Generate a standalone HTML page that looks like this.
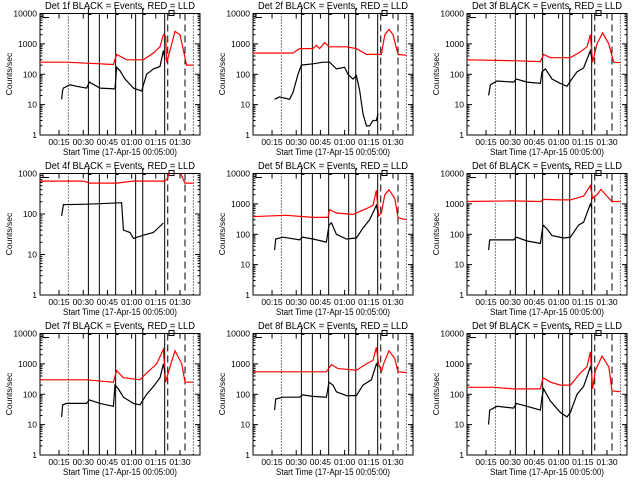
<!DOCTYPE html>
<html><head><meta charset="utf-8"><style>
html,body{margin:0;padding:0;background:#fff}
svg{display:block}
text{font-family:"Liberation Sans",sans-serif;fill:#000}
</style></head><body>
<svg id="chart" width="640" height="480" viewBox="0 0 640 480" xmlns="http://www.w3.org/2000/svg"></svg>
<script>
// ---- data (minutes after 00:00; counts/sec) ----
const tickLabels = ["00:15","00:30","00:45","01:00","01:15","01:30"];
const tickMinutes = [15,30,45,60,75,90];
const solidLines = [33.2,40.0,50.1,62.5,66.9,80.5];
const dottedLines = [20.8,98.3];
const dashedLines = [82.4,93.1];
const detNames = ["1f","2f","3f","4f","5f","6f","7f","8f","9f"];

const b1t=[16.6,17.3,17.7,21.8,25.9,32.1,33.8,40.4,49.7,50.7,52.8,55.9,61.1,66.2,69.3,73.5,77.6,79.7,80.7];
const b1v=[15,30,35,45,40,35,55,35,33,170,130,70,35,28,100,150,180,600,300];
const r1t=[3.2,19.7,48.7,50.7,56.9,67.3,73.5,77.6,79.7,81.1,81.8,83.8,86.9,90.0,94.1,98.3];
const r1v=[250,250,210,450,300,300,500,800,2000,1800,250,600,2600,2000,200,200];

const b2t=[16.6,19.7,25.9,28.0,31.1,33.2,40.4,46.6,50.7,54.9,60.0,62.1,65.2,67.3,69.3,71.4,73.5,75.5,77.6,79.7,80.7];
const b2v=[15,18,15,25,100,200,220,250,250,150,170,100,70,90,30,5,2,2,3,3,5];
const r2t=[3.2,28.0,32.1,40.4,42.5,44.5,47.6,50.7,61.1,67.3,73.5,80.7,82.8,84.9,87.5,90.0,93.1,98.3];
const r2v=[500,500,700,700,900,700,1100,800,800,700,450,450,450,2000,3000,2000,450,420];

const b3t=[16.6,17.7,21.8,32.1,33.8,40.4,48.7,49.7,51.8,55.9,61.1,65.2,67.3,71.4,75.5,79.7,80.7];
const b3v=[20,45,60,55,70,55,50,120,150,70,50,40,60,120,160,600,300];
const r3t=[3.2,32.1,48.7,50.7,54.9,67.3,73.5,77.6,79.7,81.1,83.8,87.3,91.1,94.1,98.3];
const r3v=[300,280,260,450,350,350,550,800,2000,250,1000,2300,1000,250,240];

const b4t=[16.6,17.7,32.1,40.4,53.8,54.9,59.0,61.1,67.3,73.5,79.7];
const b4v=[90,170,175,180,190,40,35,25,30,35,60];
const r4t=[3.2,30.1,34.2,50.7,61.1,79.7,81.8,83.8,90.0,92.1,93.1,98.3];
const r4v=[650,650,580,580,650,650,700,1100,1100,700,580,580];

const b5t=[16.6,17.3,21.8,32.1,33.8,40.4,48.7,50.3,51.8,54.9,61.1,67.3,71.4,75.5,79.7,80.7];
const b5v=[30,70,80,65,80,70,55,200,240,100,70,75,160,300,900,500];
const r5t=[3.2,23.9,40.4,49.7,50.7,54.9,65.2,73.5,77.6,79.7,81.1,82.8,84.9,87.5,91.1,93.1,98.3];
const r5v=[380,420,360,360,650,500,450,700,900,2800,400,500,2000,2900,1500,350,300];

const b6t=[16.6,17.3,32.1,33.8,40.4,48.7,50.3,52.8,55.9,63.1,67.3,72.4,75.5,79.7,80.7];
const b6v=[30,65,65,80,60,50,200,150,90,75,80,200,250,1000,700];
const r6t=[3.2,30.1,48.7,50.7,61.1,67.3,75.5,79.7,81.1,83.8,86.3,90.0,93.1,98.3];
const r6v=[1200,1250,1200,1400,1350,1350,1800,4000,1500,2000,3000,1800,1200,1200];

const b7t=[16.6,17.3,19.7,32.1,33.8,40.4,48.7,49.7,51.8,54.9,61.1,65.2,69.3,73.5,77.6,79.7,80.7];
const b7v=[18,45,50,50,65,50,40,200,150,80,50,45,100,180,350,1000,500];
const r7t=[3.2,32.1,48.7,50.7,54.9,65.2,69.3,75.5,79.7,81.1,83.8,86.9,91.1,93.1,98.3];
const r7v=[300,300,250,600,350,300,500,1000,3000,250,800,2700,1000,250,250];

const b8t=[16.6,17.3,21.8,32.1,33.8,40.4,48.7,50.3,52.8,54.9,61.1,67.3,71.4,76.6,79.7,80.7];
const b8v=[30,70,80,80,95,85,80,250,200,120,90,90,200,300,1000,800];
const r8t=[3.2,48.7,51.8,55.9,67.3,73.5,77.6,79.7,81.1,82.8,84.2,87.5,91.1,93.1,98.3];
const r8v=[550,550,950,700,620,1000,1300,3500,1000,550,1000,2700,1500,550,520];

const b9t=[16.6,17.3,21.8,32.1,33.8,40.4,48.7,49.7,50.7,54.9,61.1,65.2,67.3,71.4,75.5,79.7,80.7];
const b9v=[10,30,40,35,50,40,30,80,150,60,25,18,25,100,180,800,500];
const r9t=[3.2,19.7,32.1,48.7,50.3,54.9,61.1,67.3,73.5,77.6,79.7,81.1,82.8,86.9,91.1,93.1,98.3];
const r9v=[170,170,150,150,350,250,200,200,500,800,2500,150,600,1800,800,130,120];

const blackT=[b1t,b2t,b3t,b4t,b5t,b6t,b7t,b8t,b9t];
const blackV=[b1v,b2v,b3v,b4v,b5v,b6v,b7v,b8v,b9v];
const redT=[r1t,r2t,r3t,r4t,r5t,r6t,r7t,r8t,r9t];
const redV=[r1v,r2v,r3v,r4v,r5v,r6v,r7v,r8v,r9v];
const yMaxDecade=[4,4,4,3,4,4,4,4,4];

// ---- drawing ----
const NS="http://www.w3.org/2000/svg";
const svg=document.getElementById("chart");
function mk(tag,attrs,parent){const e=document.createElementNS(NS,tag);for(const k in attrs)e.setAttribute(k,attrs[k]);parent.appendChild(e);return e;}
const L=40,R=200,T=13.5,B=135,T0=3.2,T1=102.4;
function xs(t){return L+(t-T0)/(T1-T0)*(R-L);}

for(let p=0;p<9;p++){
  const ox=[0,213,427][p%3], oy=[0,160,320][Math.floor(p/3)];
  const g=mk("g",{transform:`translate(${ox},${oy})`},svg);
  
  
  const dmax=yMaxDecade[p];
  function ys(v){return B-(Math.log10(v)/dmax)*(B-T);}
  const clipId="c"+p;
  const cp=mk("clipPath",{id:clipId},g);mk("rect",{x:L,y:T,width:R-L,height:B-T},cp);

  const title=mk("text",{x:120,y:9,"font-size":"10","text-anchor":"middle",textLength:"150",lengthAdjust:"spacingAndGlyphs"},g);
  title.textContent="Det "+detNames[p]+" BLACK = Events, RED = LLD";
  
  

  // axes box
  const box=mk("rect",{x:L,y:T,width:R-L,height:B-T,fill:"none",stroke:"#000","stroke-width":"1"},g);
  
  

  // y ticks
  for(let d=0;d<=dmax;d++){
    const y=ys(Math.pow(10,d));
    mk("line",{x1:L,x2:L+5,y1:y,y2:y,stroke:"#000"},g);
    mk("line",{x1:R-5,x2:R,y1:y,y2:y,stroke:"#000"},g);
    const lb=mk("text",{x:37,y:y+3,"font-size":"8.5","text-anchor":"end"},g);
    lb.textContent=String(Math.pow(10,d));
    
    
    if(d<dmax){for(let m=2;m<10;m++){const ym=ys(m*Math.pow(10,d));
      mk("line",{x1:L,x2:L+2.5,y1:ym,y2:ym,stroke:"#000"},g);
      mk("line",{x1:R-2.5,x2:R,y1:ym,y2:ym,stroke:"#000"},g);}}
  }
  const yt=mk("text",{x:0,y:0,"font-size":"8.5","text-anchor":"middle",transform:"translate(12,74) rotate(-90)"},g);
  yt.textContent="Counts/sec";
  
  

  // x ticks
  tickMinutes.forEach((m,i)=>{
    const x=xs(m);
    mk("line",{x1:x,x2:x,y1:B,y2:B-5,stroke:"#000"},g);
    mk("line",{x1:x,x2:x,y1:T,y2:T+5,stroke:"#000"},g);
    const lb=mk("text",{x:x,y:145,"font-size":"8.5","text-anchor":"middle"},g);
    lb.textContent=tickLabels[i];
    
    
  });
  const xt=mk("text",{x:120,y:155,"font-size":"9","text-anchor":"middle",textLength:"114",lengthAdjust:"spacingAndGlyphs"},g);
  xt.textContent="Start Time (17-Apr-15 00:05:00)";
  
  

  // vertical markers
  solidLines.forEach((m,i)=>{const x=xs(m);
    const ln=mk("line",{x1:x,x2:x,y1:(i==0||i==2||i==4)?8:T,y2:B,stroke:"#000","stroke-width":"1"},g);
    
    });
  [0,2,4].forEach(i=>{const x=xs(solidLines[i]);mk("line",{x1:x,x2:x+3,y1:T+1,y2:T+1,stroke:"#000"},g);});
  dottedLines.forEach(m=>{const x=xs(m);
    const ln=mk("line",{x1:x,x2:x,y1:T,y2:B,stroke:"#000","stroke-dasharray":"1,2"},g);
    
    });
  dashedLines.forEach(m=>{const x=xs(m);
    const ln=mk("line",{x1:x,x2:x,y1:T,y2:B,stroke:"#000","stroke-dasharray":"7,4"},g);
    
    });
  mk("path",{d:`M${L+3} ${T} V${T+4} H${L+9}`,fill:"none",stroke:"#000"},g);
  mk("rect",{x:xs(83.2),y:T-3,width:5,height:5,fill:"none",stroke:"#000"},g);

  // series
  function pts(ts,vs){return ts.map((t,i)=>xs(t).toFixed(1)+","+ys(vs[i]).toFixed(1)).join(" ");}
  const red=mk("polyline",{points:pts(redT[p],redV[p]),fill:"none",stroke:"#ff0000","stroke-width":"1.2","clip-path":`url(#${clipId})`},g);
  
  
  const blk=mk("polyline",{points:pts(blackT[p],blackV[p]),fill:"none",stroke:"#000","stroke-width":"1.2","clip-path":`url(#${clipId})`},g);
  
  
}
</script>
</body></html>
